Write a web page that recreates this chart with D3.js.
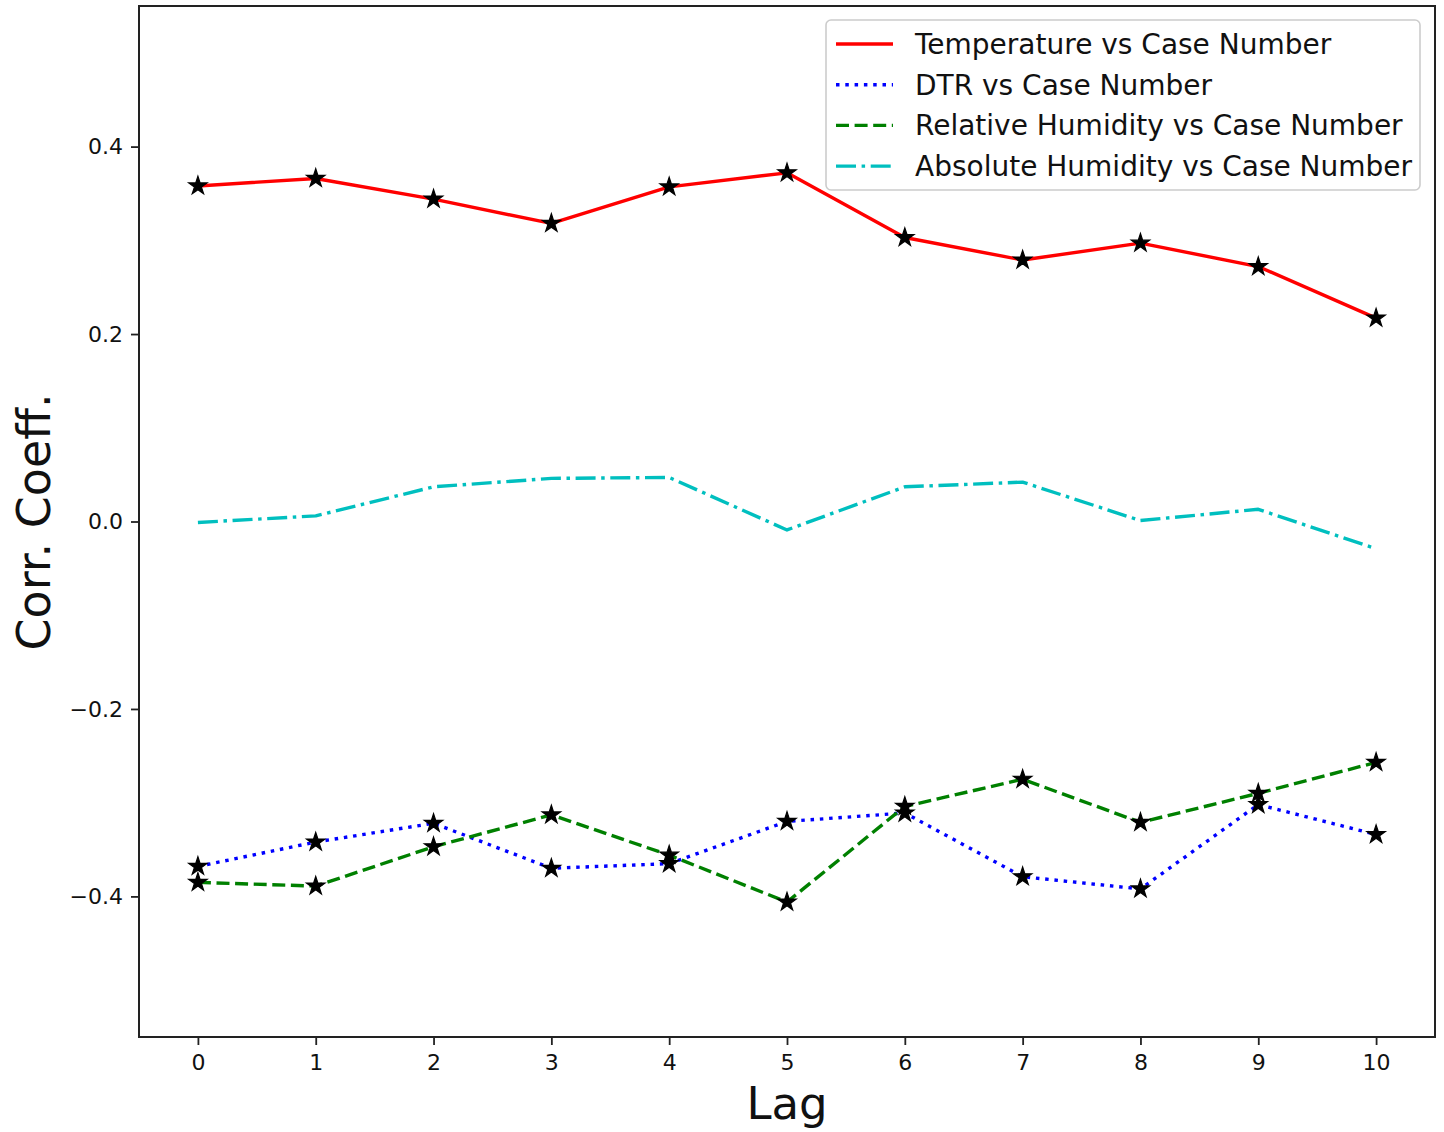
<!DOCTYPE html>
<html>
<head>
<meta charset="utf-8">
<script src="https://cdn.jsdelivr.net/npm/d3@7"></script>
<style>
  html, body { margin: 0; padding: 0; background: #ffffff; }
  svg { display: block; }
  text { font-family: "DejaVu Sans", sans-serif; fill: #111; }
</style>
</head>
<body>
<svg id="chart" width="1444" height="1132"></svg>
<script>
// Lag (days) on the x axis
const lags = [0, 1, 2, 3, 4, 5, 6, 7, 8, 9, 10];

// Correlation coefficients per lag
const temperature = [0.358, 0.366, 0.344, 0.318, 0.357, 0.372, 0.303, 0.279, 0.297, 0.272, 0.217];
const dtr         = [-0.368, -0.342, -0.322, -0.370, -0.365, -0.320, -0.311, -0.379, -0.392, -0.302, -0.334];
const relHumidity = [-0.385, -0.389, -0.347, -0.313, -0.356, -0.406, -0.304, -0.275, -0.321, -0.290, -0.257];
const absHumidity = [-0.001, 0.006, 0.037, 0.046, 0.047, -0.009, 0.037, 0.042, 0.001, 0.013, -0.029];

const yTicks = [-0.4, -0.2, 0.0, 0.2, 0.4];
const seriesNames = [
  "Temperature vs Case Number",
  "DTR vs Case Number",
  "Relative Humidity vs Case Number",
  "Absolute Humidity vs Case Number"
];

const series = [
  { name: seriesNames[0], values: temperature, color: "#ff0000", dash: null,             markers: true },
  { name: seriesNames[1], values: dtr,         color: "#0000ff", dash: "3.5,5.8",        markers: true },
  { name: seriesNames[2], values: relHumidity, color: "#008000", dash: "13,5.6",         markers: true },
  { name: seriesNames[3], values: absHumidity, color: "#00bfbf", dash: "20,5.6,3.5,5.6", markers: false }
];

const svg = d3.select("#chart");
const plot = { left: 139, right: 1435, top: 6, bottom: 1037 };

const x = d3.scaleLinear().domain([-0.5, 10.5]).range([plot.left, plot.right]);
const y = d3.scaleLinear().domain([-0.55, 0.55]).range([plot.bottom, plot.top]);

const fmt = v => d3.format(".1f")(v).replace("-", "\u2212");

// Axes
const xAxis = svg.append("g")
  .attr("transform", `translate(0,${plot.bottom})`)
  .call(d3.axisBottom(x).tickValues(lags).tickFormat(d3.format("d")).tickSize(8).tickPadding(9));
const yAxis = svg.append("g")
  .attr("transform", `translate(${plot.left},0)`)
  .call(d3.axisLeft(y).tickValues(yTicks).tickFormat(fmt).tickSize(8).tickPadding(8));

[xAxis, yAxis].forEach(a => {
  a.select(".domain").remove();
  a.selectAll(".tick line").attr("stroke", "#222").attr("stroke-width", 1.8);
  a.selectAll(".tick text")
    .style("font-family", "'DejaVu Sans', sans-serif")
    .style("font-size", "22px")
    .attr("fill", "#1a1a1a");
});

// Lines
const line = d3.line().x((d, i) => x(lags[i])).y(d => y(d));
series.forEach(s => {
  svg.append("path")
    .datum(s.values)
    .attr("d", line)
    .attr("fill", "none")
    .attr("stroke", s.color)
    .attr("stroke-width", 3.4)
    .attr("stroke-dasharray", s.dash)
    .attr("stroke-linejoin", "round");
});

// Star markers
const star = d3.symbol().type(d3.symbolStar).size(105);
series.filter(s => s.markers).forEach(s => {
  svg.append("g").selectAll("path")
    .data(s.values)
    .join("path")
    .attr("d", star)
    .attr("transform", (d, i) => `translate(${x(lags[i])},${y(d)})`)
    .attr("fill", "#000")
    .attr("stroke", "#000")
    .attr("stroke-width", 1.2);
});

// Plot frame
svg.append("rect")
  .attr("x", plot.left).attr("y", plot.top)
  .attr("width", plot.right - plot.left).attr("height", plot.bottom - plot.top)
  .attr("fill", "none").attr("stroke", "#222").attr("stroke-width", 2);

// Axis titles
svg.append("text")
  .attr("x", (plot.left + plot.right) / 2).attr("y", 1119)
  .attr("text-anchor", "middle")
  .style("font-size", "45px")
  .text("Lag");
svg.append("text")
  .attr("transform", `translate(50,522) rotate(-90)`)
  .attr("text-anchor", "middle")
  .style("font-size", "46px")
  .text("Corr. Coeff.");

// Legend
const legend = svg.append("g");
legend.append("rect")
  .attr("x", 826).attr("y", 20).attr("width", 594).attr("height", 170)
  .attr("rx", 5).attr("ry", 5)
  .attr("fill", "#ffffff").attr("fill-opacity", 0.85)
  .attr("stroke", "#cccccc").attr("stroke-width", 1.6);
series.forEach((s, i) => {
  const cy = 44 + i * 40.7;
  legend.append("line")
    .attr("x1", 836).attr("x2", 893).attr("y1", cy).attr("y2", cy)
    .attr("stroke", s.color).attr("stroke-width", 3.4)
    .attr("stroke-dasharray", s.dash);
  legend.append("text")
    .attr("x", 915).attr("y", cy + 10)
    .style("font-size", "28px")
    .text(s.name);
});
</script>
</body>
</html>
